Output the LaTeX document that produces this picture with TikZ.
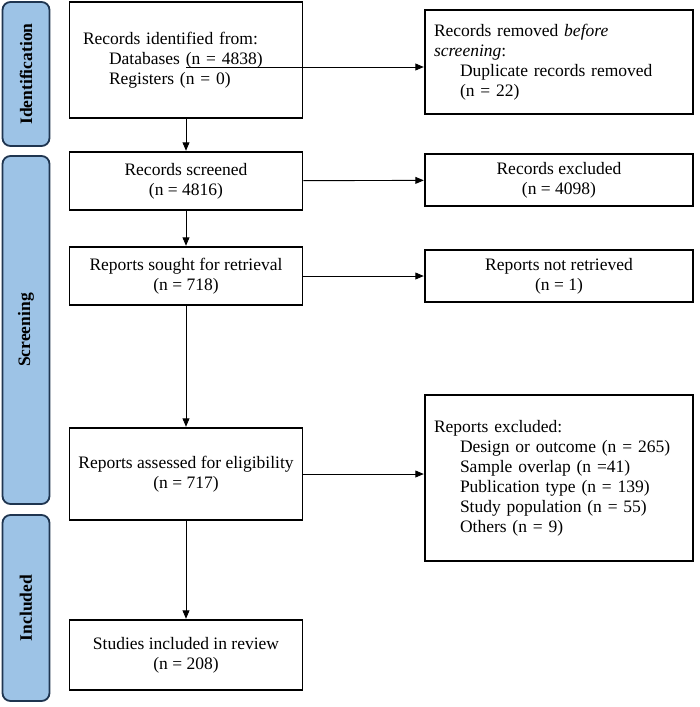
\documentclass[tikz,border=0pt]{standalone}
\usepackage{fontspec}
\setmainfont{Liberation Serif}
\usetikzlibrary{positioning, arrows}
\definecolor{stage}{HTML}{9DC3E6}
\definecolor{stageline}{HTML}{1F3550}
\tikzset{
  box/.style={draw, line width=1.5pt, inner sep=0pt, font=\fontsize{17.5}{20}\selectfont},
  side/.style={draw=stageline, fill=stage, rounded corners=8pt, line width=1.8pt, inner sep=0pt},
  sidetext/.style={rotate=90, font=\fontsize{17.5}{20}\selectfont\bfseries},
  flow/.style={-triangle 45, line width=0.9pt, shorten >=0.5pt}
}
\begin{document}
\begin{tikzpicture}[x=1pt, y=-1pt]
    \useasboundingbox (0,0) rectangle (700,707);%

    % stages
    \node [side, minimum width=47pt, minimum height=144pt] (SId) at (26,74) {};%
    \node [sidetext] at (SId) {Identification};%
    \node [side, minimum width=47pt, minimum height=348pt] (SSc) at (26,330) {};%
    \node [sidetext] at (SSc) {Screening};%
    \node [side, minimum width=47pt, minimum height=186pt] (SIn) at (26,608) {};%
    \node [sidetext] at (SIn) {Included};%

    % left column
    \node [box, minimum width=233pt, minimum height=116pt, text width=206pt, align=left] (Ident) at (186,60)
    {Records identified from:\\\hspace*{26pt}Databases (n = 4838)\\\hspace*{26pt}Registers (n = 0)\\[14pt]};%
    \node [box, minimum width=233pt, minimum height=58pt, align=center] (Screen) at (186,181)
    {Records screened\\(n = 4816)};%
    \node [box, minimum width=233pt, minimum height=58pt, align=center] (Sought) at (186,276)
    {Reports sought for retrieval\\(n = 718)};%
    \node [box, minimum width=233pt, minimum height=92pt, align=center] (Assess) at (186,474)
    {Reports assessed for eligibility\\(n = 717)};%
    \node [box, minimum width=233pt, minimum height=70pt, align=center] (Incl) at (186,655)
    {Studies included in review\\(n = 208)};%

    % right column
    \node [box, minimum width=268pt, minimum height=104pt, text width=250pt, align=left] (Dupl) at (559,62)
    {Records removed \textit{before}\\\textit{screening}:\\\hspace*{26pt}Duplicate records removed\\\hspace*{26pt}(n = 22)};%
    \node [box, minimum width=268pt, minimum height=52pt, align=center] (Excl) at (559,180)
    {Records excluded\\(n = 4098)};%
    \node [box, minimum width=268pt, minimum height=52pt, align=center] (NotRet) at (559,276)
    {Reports not retrieved\\(n = 1)};%
    \node [box, minimum width=268pt, minimum height=166pt, text width=250pt, align=left] (RepExcl) at (559,478)
    {Reports excluded:\\\hspace*{26pt}Design or outcome (n = 265)\\\hspace*{26pt}Sample overlap (n =41)\\\hspace*{26pt}Publication type (n = 139)\\\hspace*{26pt}Study population (n = 55)\\\hspace*{26pt}Others (n = 9)};%

    % arrows
    \coordinate (IdentOut) at ([yshift=-7pt]Ident.center);%
    \draw [flow] (IdentOut) -- (Dupl.west |- IdentOut);%
    \draw [flow] (Screen) -- (Excl);%
    \draw [flow] (Sought) -- (NotRet);%
    \draw [flow] (Assess) -- (RepExcl.west |- Assess);%
    \draw [flow] (Ident) -- (Screen);%
    \draw [flow] (Screen) -- (Sought);%
    \draw [flow] (Sought) -- (Assess);%
    \draw [flow] (Assess) -- (Incl);%
  \end{tikzpicture}
\end{document}
